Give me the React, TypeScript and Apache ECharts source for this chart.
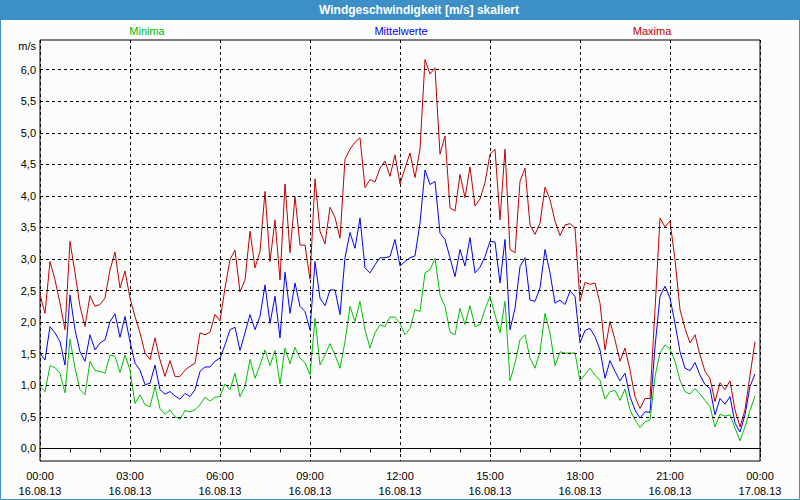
import React, { useEffect, useRef } from 'react';
import * as echarts from 'echarts';

const xTickLabels = [
  '00:00\n16.08.13', '03:00\n16.08.13', '06:00\n16.08.13', '09:00\n16.08.13',
  '12:00\n16.08.13', '15:00\n16.08.13', '18:00\n16.08.13', '21:00\n16.08.13',
  '00:00\n17.08.13',
];
const yTickValues = [0, 0.5, 1, 1.5, 2, 2.5, 3, 3.5, 4, 4.5, 5, 5.5, 6];
const STEP_MINUTES = 10;

const maxima = [
  2.43, 2.14, 2.96, 2.67, 2.30, 1.88, 3.28, 2.78, 2.25, 1.93, 2.42, 2.25, 2.28, 2.38, 2.83, 3.11, 2.54, 2.81, 2.38, 2.09, 1.83, 1.51, 1.41, 1.75, 1.40, 1.14, 1.39, 1.14, 1.14, 1.24,
  1.30, 1.35, 1.83, 1.80, 1.84, 2.12, 2.02, 2.54, 2.99, 3.14, 2.48, 2.67, 3.44, 2.86, 3.12, 4.07, 2.96, 3.62, 2.67, 4.19, 3.10, 3.99, 3.22, 3.22, 2.68, 4.27, 3.44, 3.24, 3.82, 3.66,
  3.33, 4.58, 4.74, 4.85, 4.92, 4.13, 4.26, 4.22, 4.44, 4.55, 4.31, 4.65, 4.19, 4.44, 4.68, 4.29, 4.74, 6.16, 5.93, 6.03, 4.66, 4.95, 3.81, 3.76, 4.34, 3.97, 4.46, 3.84, 3.95,
  4.21, 4.66, 4.74, 3.62, 4.74, 3.15, 3.10, 4.23, 4.44, 3.54, 3.39, 3.57, 4.14, 3.94, 3.60, 3.37, 3.54, 3.56, 3.49, 2.33, 2.63, 2.60, 2.62, 2.30, 1.56, 2.01, 1.72, 1.38, 1.59,
  1.24, 0.82, 0.63, 0.79, 0.79, 2.20, 3.65, 3.51, 3.60, 2.99, 2.20, 1.90, 1.67, 1.80, 1.48, 1.22, 1.11, 0.74, 1.04, 0.93, 1.07, 0.61, 0.34, 0.61, 1.16, 1.69,
];

const mittelwerte = [
  1.51, 1.40, 1.93, 1.83, 1.69, 1.32, 2.43, 1.88, 1.53, 1.38, 1.80, 1.56, 1.67, 1.72, 2.01, 2.13, 1.76, 2.09, 1.69, 1.35, 1.24, 1.01, 1.03, 1.32, 0.93, 0.86, 0.90, 0.83, 0.78, 0.87,
  0.82, 0.93, 1.22, 1.29, 1.29, 1.38, 1.43, 1.64, 1.88, 1.92, 1.55, 1.83, 2.12, 1.88, 2.09, 2.59, 1.98, 2.41, 1.75, 2.79, 2.14, 2.62, 2.25, 2.17, 1.88, 2.96, 2.38, 2.26, 2.51, 2.51,
  2.12, 3.02, 3.42, 3.17, 3.65, 2.86, 2.78, 2.91, 3.02, 3.02, 3.04, 3.31, 2.89, 2.96, 3.02, 3.05, 3.57, 4.41, 4.18, 4.23, 3.41, 3.31, 3.02, 2.72, 3.15, 2.89, 3.34, 2.78, 2.87,
  3.04, 3.28, 3.27, 2.62, 3.31, 1.88, 2.22, 2.88, 3.02, 2.35, 2.33, 2.54, 3.15, 2.78, 2.30, 2.35, 2.28, 2.49, 2.41, 1.67, 1.87, 1.90, 1.77, 1.56, 1.11, 1.39, 1.22, 1.07, 1.19,
  0.82, 0.61, 0.48, 0.58, 0.57, 1.61, 2.41, 2.57, 2.38, 1.98, 1.53, 1.27, 1.23, 1.36, 1.16, 1.01, 0.95, 0.53, 0.79, 0.70, 0.82, 0.40, 0.26, 0.53, 0.98, 1.18,
];

const minima = [
  0.98, 0.90, 1.31, 1.28, 1.19, 0.88, 1.73, 1.27, 0.93, 0.85, 1.38, 1.23, 1.22, 1.19, 1.48, 1.46, 1.20, 1.48, 1.24, 0.71, 0.85, 0.69, 0.66, 0.98, 0.63, 0.54, 0.61, 0.50, 0.46, 0.60,
  0.58, 0.61, 0.69, 0.81, 0.75, 0.81, 0.82, 1.02, 0.93, 1.19, 0.82, 0.98, 1.41, 1.11, 1.32, 1.56, 1.31, 1.55, 1.02, 1.59, 1.34, 1.60, 1.43, 1.36, 1.16, 2.06, 1.32, 1.48, 1.66, 1.48,
  1.27, 1.69, 2.25, 2.01, 2.33, 1.88, 1.59, 1.83, 1.96, 1.93, 2.08, 2.08, 1.98, 1.80, 1.90, 2.20, 2.17, 2.78, 2.83, 3.01, 2.43, 2.25, 1.84, 1.80, 2.22, 1.96, 2.26, 1.93, 1.96,
  2.20, 2.41, 2.12, 1.83, 2.33, 1.07, 1.35, 1.72, 1.80, 1.43, 1.27, 1.53, 2.14, 1.83, 1.31, 1.53, 1.51, 1.51, 1.51, 1.07, 1.17, 1.27, 1.16, 1.08, 0.78, 0.90, 0.92, 0.76, 0.94,
  0.61, 0.45, 0.33, 0.42, 0.45, 1.14, 1.51, 1.64, 1.57, 1.38, 1.08, 0.90, 0.86, 0.95, 0.86, 0.76, 0.66, 0.34, 0.54, 0.51, 0.53, 0.32, 0.12, 0.34, 0.60, 0.83,
];

const TITLE = 'Windgeschwindigkeit [m/s] skaliert';
const FRAME_BLUE = '#3d8fc8';

export default function App() {
  const ref = useRef<HTMLDivElement>(null);

  useEffect(() => {
    if (!ref.current) return;
    const chart = echarts.init(ref.current, null, { renderer: 'svg' });
    const toPairs = (arr: number[]) => arr.map((v, i) => [i * STEP_MINUTES, v]);
    const font = 'Liberation Sans';
    const dash = [3, 3];

    chart.setOption({
      animation: false,
      backgroundColor: '#fcfcfc',
      textStyle: { fontFamily: font },
      grid: {
        left: 40, right: 40, top: 40, bottom: 39,
        show: true, borderColor: '#000', borderWidth: 1, backgroundColor: 'transparent',
      },
      xAxis: {
        type: 'value', min: 0, max: 1440, interval: 180,
        axisLine: { show: true, lineStyle: { color: '#000', width: 1 } },
        axisTick: { show: true, length: 4, lineStyle: { color: '#000' } },
        minorTick: { show: true, splitNumber: 3, length: 4, lineStyle: { color: '#000' } },
        splitLine: { show: true, lineStyle: { color: '#000', type: dash, width: 1 } },
        axisLabel: {
          formatter: (v: number) => xTickLabels[Math.round(v / 180)] ?? '',
          color: '#000', fontSize: 11, lineHeight: 15, margin: 7,
          fontFamily: font, showMinLabel: true, showMaxLabel: true,
        },
      },
      yAxis: {
        type: 'value', min: -0.2, max: 6.47,
        axisLine: { show: false },
        axisTick: { show: false },
        splitLine: { show: false },
        axisLabel: {
          customValues: yTickValues,
          formatter: (v: number) => v.toFixed(1).replace('.', ','),
          color: '#000', fontSize: 11, margin: 4, fontFamily: font,
        },
      },
      series: [
        {
          type: 'line', data: [], silent: true, z: 1,
          markLine: {
            silent: true, symbol: 'none', label: { show: false },
            lineStyle: { color: '#000', type: dash, width: 1 },
            emphasis: { disabled: true },
            data: yTickValues.map((v) => ({ yAxis: v })),
          },
        },
        {
          name: 'Maxima', type: 'line', data: toPairs(maxima), showSymbol: false, symbol: 'none', z: 3,
          lineStyle: { color: '#c00000', width: 1 }, itemStyle: { color: '#c00000' },
        },
        {
          name: 'Mittelwerte', type: 'line', data: toPairs(mittelwerte), showSymbol: false, symbol: 'none', z: 3,
          lineStyle: { color: '#0000ff', width: 1 }, itemStyle: { color: '#0000ff' },
        },
        {
          name: 'Minima', type: 'line', data: toPairs(minima), showSymbol: false, symbol: 'none', z: 3,
          lineStyle: { color: '#00c000', width: 1 }, itemStyle: { color: '#00c000' },
        },
      ],
      graphic: [
        { type: 'rect', shape: { x: 0, y: 0, width: 800, height: 20 }, style: { fill: FRAME_BLUE }, silent: true },
        { type: 'rect', shape: { x: 0.5, y: 0.5, width: 799, height: 499 }, style: { fill: 'none', stroke: FRAME_BLUE, lineWidth: 1 }, silent: true },
        { type: 'text', x: 419, y: 10, style: { text: TITLE, fill: '#fff', font: `bold 12px "${font}"`, align: 'center', verticalAlign: 'middle' } },
        { type: 'text', x: 147, y: 31, style: { text: 'Minima', fill: '#00c000', font: `11px "${font}"`, align: 'center', verticalAlign: 'middle' } },
        { type: 'text', x: 401, y: 31, style: { text: 'Mittelwerte', fill: '#0000ff', font: `11px "${font}"`, align: 'center', verticalAlign: 'middle' } },
        { type: 'text', x: 652, y: 31, style: { text: 'Maxima', fill: '#c00000', font: `11px "${font}"`, align: 'center', verticalAlign: 'middle' } },
        { type: 'text', x: 36, y: 46, style: { text: 'm/s', fill: '#000', font: `11px "${font}"`, align: 'right', verticalAlign: 'middle' } },
      ],
    });

    return () => chart.dispose();
  }, []);

  return (
    <div
      ref={ref}
      style={{ position: 'fixed', left: 0, top: 0, width: 800, height: 500 }}
    />
  );
}
